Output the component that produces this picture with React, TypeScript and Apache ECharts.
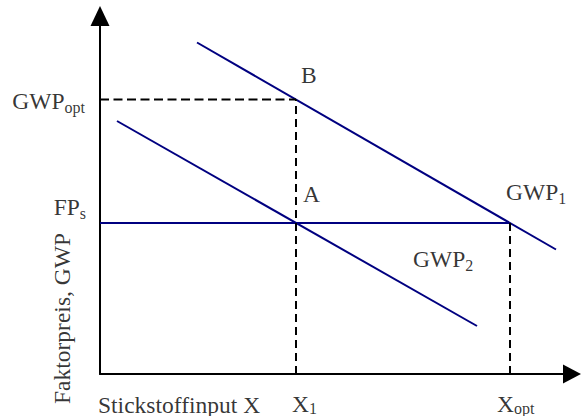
import React, { useEffect, useRef } from "react";
import * as echarts from "echarts";

// Axis extents (abstract units, origin where the axes cross)
const X_MAX = 472;
const Y_MAX = 358;

// Marked input quantities on the x axis
const xMarkNames = ["X1", "Xopt"];
const xMarkValues = [196, 410];

// Marked price levels on the y axis
const yMarkNames = ["GWPopt", "FPs"];
const yMarkValues = [274.5, 151];

// Marginal value product curves (start, end)
const gwp1Line: number[][] = [
  [97, 331.5],
  [456, 124.5],
];
const gwp2Line: number[][] = [
  [17, 253],
  [377, 48],
];

const FONT = "'Liberation Serif', 'Times New Roman', Times, serif";
const MAIN = 23.5;
const SUB = 16;
const BLUE = "#000080";

const rich = {
  m: { fontSize: MAIN, lineHeight: 24, verticalAlign: "top", fontFamily: FONT, color: "#000" },
  s: { fontSize: SUB, lineHeight: 16, padding: [10, 0, 0, 0], verticalAlign: "top", fontFamily: FONT, color: "#000" },
  b: { fontSize: SUB, lineHeight: 16, padding: [8.5, 0, 0, 0], verticalAlign: "top", fontFamily: FONT, color: "#000" },
};

function subText(main: string, sub?: string, style = "s") {
  return sub ? `{m|${main}}{${style}|${sub}}` : main;
}

export default function App() {
  const ref = useRef<HTMLDivElement>(null);

  useEffect(() => {
    if (!ref.current) return;
    const chart = echarts.init(ref.current, undefined, { renderer: "svg" });

    const [X1, XOPT] = xMarkValues;
    const [GWPOPT, FPS] = yMarkValues;
    const subShift = 1.2;
    const bottomRow = 29.5;

    type Lbl = { at: number[]; text: string; align: string; offset: number[]; rotate?: number };
    const labels: Lbl[] = [
      { at: [X1, GWPOPT], text: "B", align: "left", offset: [5, -24.5] },
      { at: [X1, FPS], text: "A", align: "left", offset: [7, -29] },
      { at: [XOPT, FPS], text: subText("GWP", "1"), align: "left", offset: [-4, -32 + subShift] },
      { at: gwp2Line[1], text: subText("GWP", "2"), align: "left", offset: [-64, -68 + subShift] },
      { at: [0, GWPOPT], text: subText("GWP", "opt"), align: "right", offset: [-15, 0.5 + subShift] },
      { at: [0, FPS], text: subText("FP", "s"), align: "right", offset: [-14, -17 + subShift] },
      { at: [X1, 0], text: subText("X", "1", "b"), align: "left", offset: [-4, bottomRow] },
      { at: [XOPT, 0], text: subText("X", "opt", "b"), align: "left", offset: [-13, bottomRow] },
      { at: [0, 0], text: "Stickstoffinput X", align: "left", offset: [-2, bottomRow + 1] },
      // rotated label: offset is applied in the text's rotated frame
      { at: [0, 0], text: "Faktorpreis, GWP", align: "center", offset: [55.5, -38], rotate: 90 },
    ];

    const lineSeries = (name: string, data: number[][], color: string, dashed?: number[]) => ({
      type: "line",
      name,
      data,
      symbol: "none",
      silent: true,
      lineStyle: { color, width: 2, type: dashed || "solid" },
      z: 3,
    });

    const axisCommon = {
      type: "value",
      min: 0,
      axisTick: { show: false },
      axisLabel: { show: false },
      splitLine: { show: false },
    };

    chart.setOption({
      animation: false,
      grid: { left: 100, top: 16, right: 9, bottom: 42, containLabel: false },
      xAxis: {
        ...axisCommon,
        max: X_MAX,
        axisLine: {
          show: true,
          onZero: false,
          symbol: ["none", "triangle"],
          symbolSize: [19, 18],
          lineStyle: { color: "#000", width: 2 },
        },
      },
      yAxis: {
        ...axisCommon,
        max: Y_MAX,
        axisLine: {
          show: true,
          onZero: false,
          symbol: ["none", "triangle"],
          symbolSize: [19, 20],
          lineStyle: { color: "#000", width: 2 },
        },
      },
      series: [
        lineSeries("GWP1", gwp1Line, BLUE),
        lineSeries("GWP2", gwp2Line, BLUE),
        lineSeries(yMarkNames[1], [[0, FPS], [XOPT, FPS]], BLUE),
        lineSeries(yMarkNames[0], [[0, GWPOPT], [X1, GWPOPT]], "#000", [9, 4.5]),
        lineSeries(xMarkNames[0], [[X1, 0], [X1, GWPOPT]], "#000", [8, 5]),
        lineSeries(xMarkNames[1], [[XOPT, 0], [XOPT, FPS]], "#000", [8, 5]),
        {
          type: "scatter",
          name: "labels",
          silent: true,
          clip: false,
          symbolSize: 1,
          itemStyle: { color: "transparent" },
          z: 5,
          data: labels.map((l) => ({
            value: l.at,
            label: {
              show: true,
              position: "inside",
              align: l.align,
              verticalAlign: "middle",
              offset: l.offset,
              rotate: l.rotate || 0,
              formatter: l.text,
              fontFamily: FONT,
              fontSize: MAIN,
              color: "#000",
              rich,
            },
          })),
        },
      ],
    });

    return () => chart.dispose();
  }, []);

  return (
    <div
      ref={ref}
      style={{ position: "fixed", left: 0, top: 0, width: 581, height: 416, background: "#fff" }}
    />
  );
}
